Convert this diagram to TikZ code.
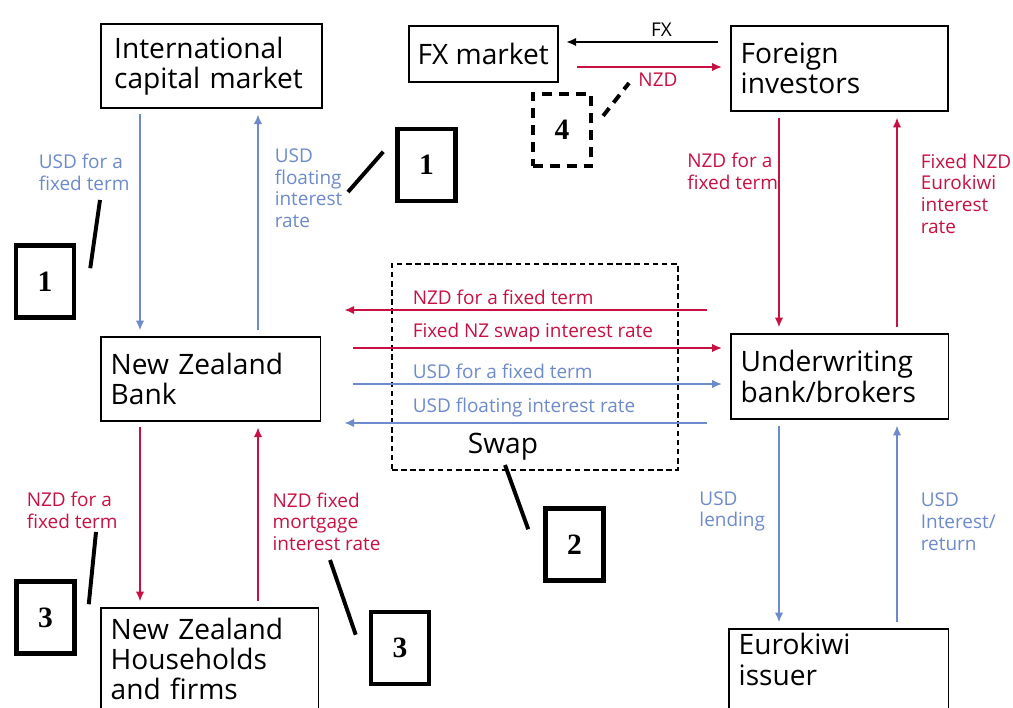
\documentclass[tikz,border=0pt]{standalone}
\usepackage{fontspec}
\setmainfont{Open Sans}
\newfontfamily\numfont{Liberation Serif}
\usetikzlibrary{arrows.meta}
\definecolor{nzdred}{RGB}{200,16,66}
\definecolor{usdblue}{RGB}{108,138,204}
\newcommand{\boxfont}{\fontsize{20}{21.5}\selectfont}
\newcommand{\lblfont}{\fontsize{13.5}{15.5}\selectfont}
\tikzset{
	box/.style={draw, line width=1.2pt, anchor=north west, align=left, inner xsep=7pt, font=\boxfont},
	flow/.style={line width=1.2pt, -{Latex[length=7pt, width=6pt]}, shorten <=4pt, shorten >=4pt},
	nzd/.style={flow, nzdred},
	usd/.style={flow, usdblue},
	lbl/.style={font=\lblfont, align=left},
	callout/.style={draw, line width=3.2pt, minimum width=1.45cm, minimum height=1.8cm, font=\numfont\bfseries\fontsize{21}{24}\selectfont},
	pointer/.style={line width=2.8pt},
}

\begin{document}
\begin{tikzpicture}[x=0.025cm, y=-0.025cm]
	\clip (0,0) rectangle (1013,708);
	\node [box, text width=4.86cm, minimum height=2.1cm, inner xsep=9.5pt] (icm) at (100,23) {International\\capital market};
	\node [box, inner xsep=2pt, minimum width=3.72cm, minimum height=1.4cm] (fx) at (408,25) {FX market};
	\node [box, text width=4.93cm, minimum height=2.13cm] (fi) at (730,25) {Foreign\\investors};
	\node [box, text width=5cm, minimum height=2.1cm] (nzb) at (100,336) {New Zealand\\Bank};
	\node [box, text width=4.95cm, minimum height=2.13cm] (ub) at (730,333) {Underwriting\\bank/brokers};
	\node [box, text width=4.95cm, minimum height=2.55cm] (hh) at (100,607) {New Zealand\\Households\\and firms};
	\node [box, text width=5cm] (ek) at (728,628) {Eurokiwi\\issuer\\\strut};

	\coordinate (xa) at (140,0);
	\coordinate (xb) at (258,0);
	\coordinate (xc) at (779,0);
	\coordinate (xd) at (897,0);
	\coordinate (yfx) at (0,42);
	\coordinate (ynzd) at (0,67);
	\coordinate (ya) at (0,310);
	\coordinate (yb) at (0,348);
	\coordinate (yc) at (0,384);
	\coordinate (yd) at (0,423);

	\draw [usd] (icm.south -| xa) -- (nzb.north -| xa) node [lbl, pos=0.28, left, xshift=-3.5pt] {USD for a\\fixed term};
	\draw [usd] (nzb.north -| xb) -- (icm.south -| xb) node [lbl, pos=0.65, right, xshift=8pt] {USD\\floating\\interest\\rate};
	\draw [nzd] (nzb.south -| xa) -- (hh.north -| xa) node [lbl, pos=0.48, left, xshift=-12pt] {NZD for a\\fixed term};
	\draw [nzd] (hh.north -| xb) -- (nzb.south -| xb) node [lbl, pos=0.46, right, xshift=6.5pt] {NZD fixed\\mortgage\\interest rate};
	\draw [nzd] (fi.south -| xc) -- (ub.north -| xc) node [lbl, pos=0.27, left, xshift=3.3pt] {NZD for a\\fixed term};
	\draw [nzd] (ub.north -| xd) -- (fi.south -| xd) node [lbl, pos=0.63, right, xshift=13pt] {Fixed NZD\\Eurokiwi\\interest\\rate};
	\draw [usd] (ub.south -| xc) -- (ek.north -| xc) node [lbl, pos=0.44, left, xshift=-6pt] {USD\\lending};
	\draw [usd] (ek.north -| xd) -- (ub.south -| xd) node [lbl, pos=0.51, right, xshift=13pt] {USD\\Interest/\\return};

	\draw [flow, shorten <=8.5pt, shorten >=5.5pt] (fi.west |- yfx) -- (fx.east |- yfx) node [lbl, pos=0.4, above] {FX};
	\draw [nzd, shorten <=12.8pt, shorten >=5.7pt] (fx.east |- ynzd) -- (fi.west |- ynzd) node [lbl, pos=0.58, below] {NZD};

	\node [draw, line width=1pt, dash pattern=on 4pt off 2.5pt, minimum width=7.15cm, minimum height=5.15cm] (swap) at (535,367) {};
	\node [font=\boxfont] (swaptxt) at (503,447) {Swap};
	\draw [nzd, shorten <=16.3pt, shorten >=16.3pt] (ub.west |- ya) -- (nzb.east |- ya) node [lbl, pos=0.79, anchor=south west] {NZD for a fixed term};
	\draw [nzd, shorten <=22.7pt, shorten >=5.7pt] (nzb.east |- yb) -- (ub.west |- yb) node [lbl, pos=0.21, anchor=south west] {Fixed NZ swap interest rate};
	\draw [usd, shorten <=22.7pt, shorten >=5.7pt] (nzb.east |- yc) -- (ub.west |- yc) node [lbl, pos=0.21, anchor=south west] {USD for a fixed term};
	\draw [usd, shorten <=16.3pt, shorten >=16.3pt] (ub.west |- yd) -- (nzb.east |- yd) node [lbl, pos=0.79, anchor=south west] {USD floating interest rate};

	\node [callout] (n1a) at (45,281.5) {1};
	\node [callout] (n1b) at (426.5,165) {1};
	\node [callout, dash pattern=on 7pt off 5pt, line width=3pt] (n4) at (562,130) {4};
	\node [callout] (n2) at (574.5,544.5) {2};
	\node [callout] (n3a) at (45.5,617.5) {3};
	\node [callout] (n3b) at (400,648) {3};

	\coordinate (p1a) at (100,200);
	\coordinate (p1b) at (348,192);
	\coordinate (p4) at (629,83);
	\coordinate (p2) at (505,465);
	\coordinate (p3a) at (96,532);
	\coordinate (p3b) at (330,560);
	\draw [pointer] ([shift={(14,25)}]n1a.north east) -- (p1a);
	\draw [pointer] ([shift={(-12,25)}]n1b.north west) -- (p1b);
	\draw [pointer, dash pattern=on 7pt off 5pt] ([shift={(10,24)}]n4.north east) -- (p4);
	\draw [pointer] ([shift={(-15,23)}]n2.north west) -- (p2);
	\draw [pointer] ([shift={(12,25)}]n3a.north east) -- (p3a);
	\draw [pointer] ([shift={(-13,25)}]n3b.north west) -- (p3b);
\end{tikzpicture}
\end{document}
